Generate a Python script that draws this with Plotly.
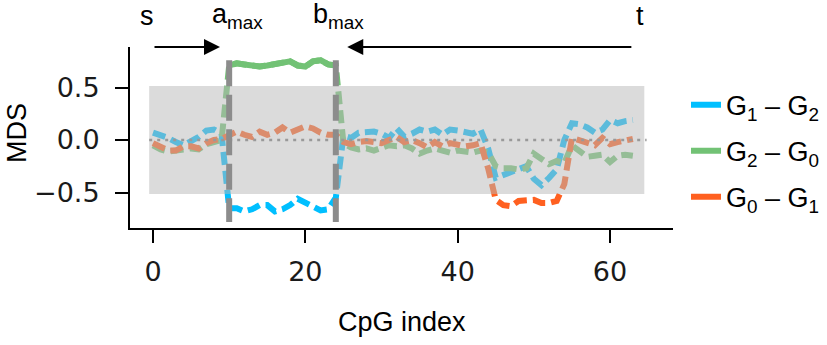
import plotly.graph_objects as go

# ---------------- data ----------------
cpg_index = list(range(64))

g1_g2 = [0.07, 0.05, 0.02, -0.02, -0.05, -0.01, 0.03, 0.09, 0.10, 0.06,
         -0.65, -0.65, -0.68, -0.66, -0.62, -0.62, -0.68, -0.66, -0.62, -0.56,
         -0.60, -0.64, -0.67, -0.66, -0.55,
         0.04, 0.02, 0.07, 0.08, 0.08, 0.06, 0.02, 0.11, 0.03, 0.06,
         0.10, 0.08, 0.10, 0.05, 0.10, 0.09, 0.08, 0.06, 0.10, -0.08,
         -0.36, -0.33, -0.30, -0.27, -0.25, -0.37, -0.43, -0.36, -0.28, 0.00,
         0.16, 0.15, 0.12, 0.07, 0.10, 0.19, 0.16, 0.18, 0.19]

g2_g0 = [-0.05, -0.09, -0.11, -0.10, -0.08, -0.08, -0.09, -0.04, -0.02, 0.00,
         0.71, 0.73, 0.72, 0.71, 0.70, 0.71, 0.72, 0.73, 0.75, 0.71,
         0.70, 0.75, 0.76, 0.72, 0.71,
         -0.03, -0.07, -0.09, -0.08, -0.10, -0.07, -0.05, -0.06, -0.05, -0.08,
         -0.13, -0.10, -0.08, -0.10, -0.12, -0.10, -0.11, -0.12, -0.10, -0.12,
         -0.25, -0.27, -0.27, -0.28, -0.27, -0.13, -0.18, -0.23, -0.20, -0.22,
         -0.05, -0.10, -0.16, -0.15, -0.14, -0.21, -0.15, -0.14, -0.15]

g0_g1 = [-0.03, -0.07, -0.10, -0.10, -0.06, -0.06, -0.08, -0.03, 0.00, 0.01,
         0.04, 0.08, 0.05, 0.03, 0.08, 0.05, 0.07, 0.12, 0.07, 0.10,
         0.13, 0.11, 0.07, 0.05, 0.05,
         -0.02, -0.04, -0.02, -0.01, -0.02, -0.03, 0.00, 0.03, -0.02, 0.00,
         -0.03, -0.07, -0.02, -0.06, -0.03, -0.05, -0.06, -0.05, -0.03, -0.27,
         -0.57, -0.62, -0.63, -0.58, -0.57, -0.57, -0.60, -0.60, -0.58, -0.42,
         0.02, 0.00, -0.03, -0.05, 0.02, -0.04, -0.02, 0.00, 0.01]

series_names = ["G<sub>1</sub> – G<sub>2</sub>",
                "G<sub>2</sub> – G<sub>0</sub>",
                "G<sub>0</sub> – G<sub>1</sub>"]
series_values = [g1_g2, g2_g0, g0_g1]

# markers on the index axis
s_pos, a_max, b_max, t_pos = 0, 10, 24, 63
band_x = [-0.5, 64.5]
band_y = [-0.514, 0.514]
vline_y = [-0.78, 0.76]
zero_line_x = [-0.5, 64.8]

y_tickvals = [-0.5, 0.0, 0.5]
y_ticktext = ["\u22120.5", "0.0", "0.5"]
x_tickvals = [0, 20, 40, 60]

# ---------------- style ----------------
colors = ["#00BFFF", "#72C275", "#FF6020"]
x_range = [-3.02, 68.27]
y_range = [-0.838, 0.886]
TXT = "Arial, Liberation Sans, sans-serif"
TICK = "DejaVu Sans, sans-serif"

fig = go.Figure()

for name, vals, col in zip(series_names, series_values, colors):
    fig.add_trace(go.Scatter(
        x=cpg_index, y=vals, mode="lines", showlegend=False,
        line=dict(color=col, width=6, dash="13px,6px"),
        hoverinfo="skip"))

# the G2-G0 plateau between a_max and b_max reads as a continuous stroke
fig.add_trace(go.Scatter(
    x=cpg_index[a_max:b_max + 1], y=g2_g0[a_max:b_max + 1], mode="lines",
    showlegend=False, line=dict(color=colors[1], width=6), hoverinfo="skip"))

# legend entries (solid handles)
for i, (name, col) in enumerate(zip(series_names, colors)):
    fig.add_trace(go.Scatter(
        x=[None], y=[None], mode="lines", name=name, legendgroup=f"g{i}",
        line=dict(color=col, width=6)))

shapes = [
    dict(type="rect", xref="x", yref="y", x0=band_x[0], x1=band_x[1],
         y0=band_y[0], y1=band_y[1], fillcolor="rgba(184,184,184,0.5)",
         line=dict(width=0), layer="above"),
    dict(type="line", xref="x", yref="y", x0=zero_line_x[0], x1=zero_line_x[1],
         y0=0, y1=0, line=dict(color="#999999", width=2.5, dash="3px,5px"),
         layer="above"),
]
for xv in (a_max, b_max):
    shapes.append(dict(type="line", xref="x", yref="y", x0=xv, x1=xv,
                       y0=vline_y[1], y1=vline_y[0],
                       line=dict(color="#8C8C8C", width=6, dash="26px,8.5px"),
                       layer="above"))

annotations = [
    # arrows
    dict(xref="x", yref="y", x=a_max - 1.2, y=y_range[1], axref="x", ayref="y",
         ax=s_pos, ay=y_range[1], text="", showarrow=True, arrowhead=2,
         arrowsize=1.6, arrowwidth=2, arrowcolor="black"),
    dict(xref="x", yref="y", x=b_max + 1.5, y=y_range[1], axref="x", ayref="y",
         ax=t_pos, ay=y_range[1], text="", showarrow=True, arrowhead=2,
         arrowsize=1.6, arrowwidth=2, arrowcolor="black"),
]
labels = ["s", "a<sub>max</sub>", "b<sub>max</sub>", "t"]
label_x = [s_pos, a_max, b_max, t_pos]
label_shift = [-6, 8, 3, 7]
for lab, lx, sh in zip(labels, label_x, label_shift):
    annotations.append(dict(xref="x", yref="paper", x=lx, y=1.17, text=lab,
                            showarrow=False, xanchor="center", yanchor="middle",
                            xshift=sh, font=dict(family=TXT, size=27, color="black")))
# axis titles
annotations.append(dict(xref="paper", yref="paper", x=(402 - 130) / 543, y=(228 - 322) / 181,
                        text="CpG index", showarrow=False, xanchor="center",
                        yanchor="middle", font=dict(family=TXT, size=27, color="black")))
annotations.append(dict(xref="paper", yref="paper", x=(17 - 130) / 543, y=(228 - 133) / 181,
                        text="MDS", showarrow=False, xanchor="center", textangle=-90,
                        yanchor="middle", font=dict(family=TXT, size=27, color="black")))

fig.update_layout(
    width=827, height=345, autosize=False,
    margin=dict(l=130, r=154, t=47, b=117, pad=0),
    paper_bgcolor="white", plot_bgcolor="white",
    shapes=shapes, annotations=annotations,
    legend=dict(xref="container", x=0.8295, xanchor="left",
                y=0.425, yanchor="middle",
                font=dict(family=TXT, size=27, color="black"),
                tracegroupgap=8, bgcolor="rgba(0,0,0,0)"),
    xaxis=dict(range=x_range, showgrid=False, zeroline=False, showline=True,
               linecolor="black", linewidth=2, ticks="outside", ticklen=13,
               tickwidth=2, tickcolor="black", tickvals=x_tickvals,
               tickfont=dict(family=TICK, size=27, color="#1a1a1a"),
               ticklabelstandoff=6),
    yaxis=dict(range=y_range, showgrid=False, zeroline=False, showline=True,
               linecolor="black", linewidth=2, ticks="outside", ticklen=13,
               tickwidth=2, tickcolor="black", tickvals=y_tickvals,
               ticktext=y_ticktext,
               tickfont=dict(family=TICK, size=27, color="#1a1a1a"),
               ticklabelstandoff=10),
)

fig.write_html("out.html")
